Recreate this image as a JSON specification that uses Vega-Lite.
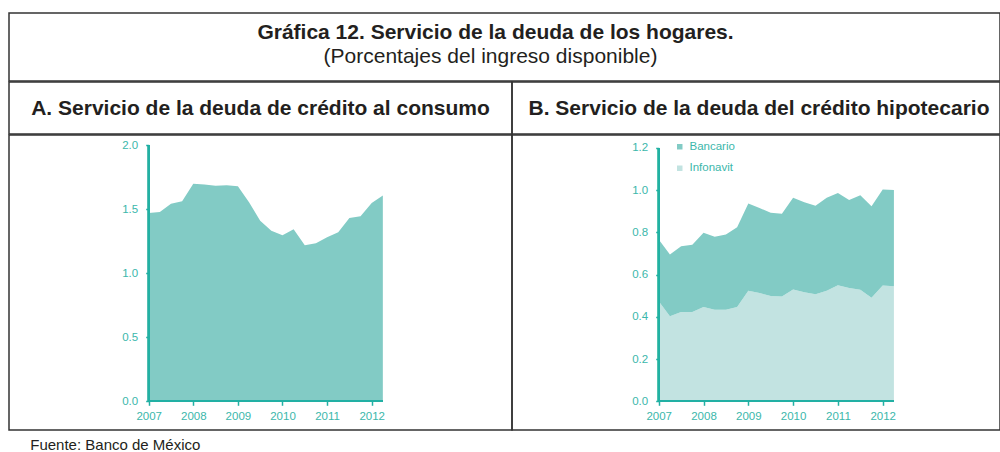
{
  "$schema": "https://vega.github.io/schema/vega-lite/v6.json",
  "background": "white",
  "padding": {"left": 8, "top": 12, "right": 0, "bottom": 0},
  "config": {
    "view": {"stroke": "#333333", "strokeWidth": 1.5},
    "font": "Liberation Sans",
    "axis": {"labelFont": "Liberation Sans", "labelFontSize": 11.5, "labelColor": "#3bb7ab", "tickColor": "#22b0a4", "tickSize": 3, "tickWidth": 1.5, "domain": false, "grid": false, "labelPadding": 8},
    "legend": {"labelFont": "Liberation Sans"}
  },
  "title": {"text": "Fuente: Banco de México", "orient": "bottom", "anchor": "start", "fontSize": 15, "fontWeight": "normal", "color": "#231f20", "baseline": "alphabetic", "offset": 19, "dx": 22, "font": "Liberation Sans"},
  "spacing": -2.5,
  "bounds": "full",
  "vconcat": [
    {
      "width": 991, "height": 68,
      "data": {"values": [{"titulo": "Gráfica 12. Servicio de la deuda de los hogares.", "subtitulo": "(Porcentajes del ingreso disponible)"}]},
      "encoding": {
        "x": {"datum": 0.5, "type": "quantitative", "scale": {"domain": [0, 1]}, "axis": null},
        "y": {"datum": 0.5, "type": "quantitative", "scale": {"domain": [0, 1]}, "axis": null}
      },
      "layer": [
        {"mark": {"type": "text", "fontSize": 21, "fontWeight": "bold", "color": "#231f20", "baseline": "alphabetic", "dy": -8, "dx": -9}, "encoding": {"text": {"field": "titulo"}}},
        {"mark": {"type": "text", "fontSize": 21, "color": "#231f20", "baseline": "alphabetic", "dy": 16, "dx": -14}, "encoding": {"text": {"field": "subtitulo"}}}
      ]
    },
    {
      "spacing": 0,
      "bounds": "flush",
      "hconcat": [
        {
          "width": 503, "height": 52,
          "data": {"values": [{"h": "A. Servicio de la deuda de crédito al consumo"}]},
          "mark": {"type": "text", "fontSize": 21, "fontWeight": "bold", "color": "#231f20", "baseline": "alphabetic", "dy": 7},
          "encoding": {
            "x": {"datum": 0.5, "type": "quantitative", "scale": {"domain": [0, 1]}, "axis": null},
            "y": {"datum": 0.5, "type": "quantitative", "scale": {"domain": [0, 1]}, "axis": null},
            "text": {"field": "h"}
          }
        },
        {
          "width": 488, "height": 52,
          "data": {"values": [{"h": "B. Servicio de la deuda del crédito hipotecario"}]},
          "mark": {"type": "text", "fontSize": 21, "fontWeight": "bold", "color": "#231f20", "baseline": "alphabetic", "dy": 7, "dx": 3},
          "encoding": {
            "x": {"datum": 0.5, "type": "quantitative", "scale": {"domain": [0, 1]}, "axis": null},
            "y": {"datum": 0.5, "type": "quantitative", "scale": {"domain": [0, 1]}, "axis": null},
            "text": {"field": "h"}
          }
        }
      ]
    },
    {
      "spacing": 0,
      "bounds": "flush",
      "hconcat": [
        {
          "width": 503, "height": 295,
          "data": {"values": [
            {"t": 2007.0, "v": 1.471}, {"t": 2007.25, "v": 1.479}, {"t": 2007.5, "v": 1.544}, {"t": 2007.75, "v": 1.562},
            {"t": 2008.0, "v": 1.70}, {"t": 2008.25, "v": 1.693}, {"t": 2008.5, "v": 1.685}, {"t": 2008.75, "v": 1.688},
            {"t": 2009.0, "v": 1.68}, {"t": 2009.25, "v": 1.555}, {"t": 2009.5, "v": 1.411}, {"t": 2009.75, "v": 1.333},
            {"t": 2010.0, "v": 1.297}, {"t": 2010.25, "v": 1.344}, {"t": 2010.5, "v": 1.219}, {"t": 2010.75, "v": 1.234},
            {"t": 2011.0, "v": 1.281}, {"t": 2011.25, "v": 1.32}, {"t": 2011.5, "v": 1.432}, {"t": 2011.75, "v": 1.445},
            {"t": 2012.0, "v": 1.55}, {"t": 2012.25, "v": 1.607}
          ]},
          "layer": [
            {
              "mark": {"type": "area", "color": "#82cbc5", "opacity": 1},
              "encoding": {
                "x": {"field": "t", "type": "quantitative", "scale": {"domain": [2003.868, 2015.146], "nice": false, "zero": false},
                      "axis": {"values": [2007, 2008, 2009, 2010, 2011, 2012], "format": "d", "offset": -28.7, "title": null, "labelPadding": 5, "tickSize": 4}},
                "y": {"field": "v", "type": "quantitative", "scale": {"domain": [-0.224, 2.0805], "nice": false, "zero": false},
                      "axis": {"values": [0, 0.5, 1, 1.5, 2], "format": ".1f", "offset": -139.7, "title": null}}
              }
            },
            {"mark": {"type": "rule", "color": "#22b0a4", "strokeWidth": 1.5}, "encoding": {"x": {"datum": 2007}, "y": {"datum": 0}, "y2": {"datum": 2}}},
            {"mark": {"type": "rule", "color": "#22b0a4", "strokeWidth": 1.5}, "encoding": {"x": {"datum": 2007}, "x2": {"datum": 2012.25}, "y": {"datum": 0}}}
          ]
        },
        {
          "width": 488, "height": 295,
          "data": {"values": [
            {"t": 2007.0, "serie": "Infonavit", "v": 0.474}, {"t": 2007.0, "serie": "Bancario", "v": 0.292},
            {"t": 2007.25, "serie": "Infonavit", "v": 0.403}, {"t": 2007.25, "serie": "Bancario", "v": 0.292},
            {"t": 2007.5, "serie": "Infonavit", "v": 0.423}, {"t": 2007.5, "serie": "Bancario", "v": 0.312},
            {"t": 2007.75, "serie": "Infonavit", "v": 0.423}, {"t": 2007.75, "serie": "Bancario", "v": 0.319},
            {"t": 2008.0, "serie": "Infonavit", "v": 0.447}, {"t": 2008.0, "serie": "Bancario", "v": 0.351},
            {"t": 2008.25, "serie": "Infonavit", "v": 0.434}, {"t": 2008.25, "serie": "Bancario", "v": 0.345},
            {"t": 2008.5, "serie": "Infonavit", "v": 0.434}, {"t": 2008.5, "serie": "Bancario", "v": 0.356},
            {"t": 2008.75, "serie": "Infonavit", "v": 0.447}, {"t": 2008.75, "serie": "Bancario", "v": 0.378},
            {"t": 2009.0, "serie": "Infonavit", "v": 0.524}, {"t": 2009.0, "serie": "Bancario", "v": 0.413},
            {"t": 2009.25, "serie": "Infonavit", "v": 0.513}, {"t": 2009.25, "serie": "Bancario", "v": 0.403},
            {"t": 2009.5, "serie": "Infonavit", "v": 0.499}, {"t": 2009.5, "serie": "Bancario", "v": 0.394},
            {"t": 2009.75, "serie": "Infonavit", "v": 0.496}, {"t": 2009.75, "serie": "Bancario", "v": 0.392},
            {"t": 2010.0, "serie": "Infonavit", "v": 0.529}, {"t": 2010.0, "serie": "Bancario", "v": 0.435},
            {"t": 2010.25, "serie": "Infonavit", "v": 0.517}, {"t": 2010.25, "serie": "Bancario", "v": 0.426},
            {"t": 2010.5, "serie": "Infonavit", "v": 0.507}, {"t": 2010.5, "serie": "Bancario", "v": 0.419},
            {"t": 2010.75, "serie": "Infonavit", "v": 0.524}, {"t": 2010.75, "serie": "Bancario", "v": 0.440},
            {"t": 2011.0, "serie": "Infonavit", "v": 0.550}, {"t": 2011.0, "serie": "Bancario", "v": 0.437},
            {"t": 2011.25, "serie": "Infonavit", "v": 0.537}, {"t": 2011.25, "serie": "Bancario", "v": 0.417},
            {"t": 2011.5, "serie": "Infonavit", "v": 0.528}, {"t": 2011.5, "serie": "Bancario", "v": 0.448},
            {"t": 2011.75, "serie": "Infonavit", "v": 0.490}, {"t": 2011.75, "serie": "Bancario", "v": 0.434},
            {"t": 2012.0, "serie": "Infonavit", "v": 0.548}, {"t": 2012.0, "serie": "Bancario", "v": 0.455},
            {"t": 2012.25, "serie": "Infonavit", "v": 0.545}, {"t": 2012.25, "serie": "Bancario", "v": 0.456}
          ]},
          "layer": [
            {
              "mark": {"type": "area", "opacity": 1},
              "encoding": {
                "x": {"field": "t", "type": "quantitative", "scale": {"domain": [2003.725, 2014.618], "nice": false, "zero": false},
                      "axis": {"values": [2007, 2008, 2009, 2010, 2011, 2012], "format": "d", "offset": -28.7, "title": null, "labelPadding": 5, "tickSize": 4}},
                "y": {"field": "v", "type": "quantitative", "stack": "zero", "scale": {"domain": [-0.136, 1.2615], "nice": false, "zero": false},
                      "axis": {"values": [0, 0.2, 0.4, 0.6, 0.8, 1.0, 1.2], "format": ".1f", "offset": -146.7, "title": null}},
                "color": {"field": "serie", "type": "nominal",
                          "scale": {"domain": ["Bancario", "Infonavit"], "range": ["#82cbc5", "#c2e3e1"]},
                          "legend": {"title": null, "orient": "none", "legendX": 665, "legendY": 128, "symbolType": "square", "symbolSize": 30, "symbolStrokeWidth": 0, "symbolOpacity": 1, "labelFontSize": 11.5, "labelColor": "#3bb7ab", "rowPadding": 8.5, "padding": 0, "labelOffset": 4}},
                "order": {"field": "serie", "sort": "descending"}
              }
            },
            {"mark": {"type": "rule", "color": "#22b0a4", "strokeWidth": 1.5}, "encoding": {"x": {"datum": 2007}, "y": {"datum": 0}, "y2": {"datum": 1.2}}},
            {"mark": {"type": "rule", "color": "#22b0a4", "strokeWidth": 1.5}, "encoding": {"x": {"datum": 2007}, "x2": {"datum": 2012.25}, "y": {"datum": 0}}}
          ]
        }
      ]
    }
  ]
}
